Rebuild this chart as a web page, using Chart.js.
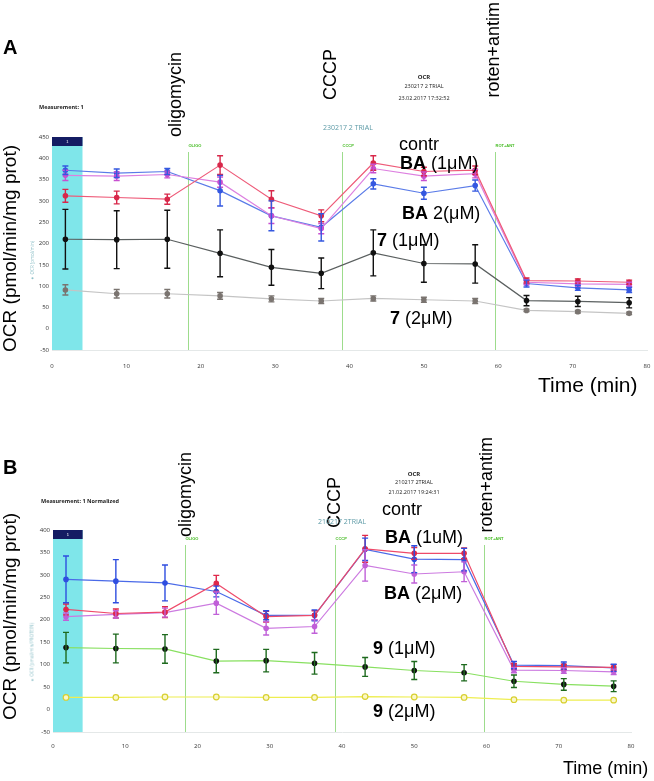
<!DOCTYPE html>
<html lang="en">
<head>
<meta charset="UTF-8">
<title>OCR</title>
<script src="https://cdn.jsdelivr.net/npm/chart.js"></script>
<style>
  body{margin:0;background:#fff;font-family:"Liberation Sans",Arial,sans-serif;}
  .wrap{position:relative;width:654px;height:781px;overflow:hidden;}
  canvas{position:absolute;left:0;}
  .t{position:absolute;white-space:nowrap;line-height:1;font-size:18px;color:#000;}
  .v{position:absolute;white-space:nowrap;line-height:1;font-size:18px;writing-mode:vertical-rl;transform:rotate(180deg);}
  .s{position:absolute;white-space:nowrap;line-height:1;font-family:"Open Sans",sans-serif;color:#222;}
  .c{transform:translateX(-50%);}
</style>
</head>
<body>
<div class="wrap">
  <canvas id="cA" width="654" height="392" style="top:0"></canvas>
  <canvas id="cB" width="654" height="389" style="top:392px"></canvas>

  <!-- panel A texts -->
  <div class="t" style="left:3px;top:37px;font-size:20px;font-weight:bold">A</div>
  <div class="v" style="left:0;bottom:429px;font-size:19px">OCR (pmol/min/mg prot)</div>
  <div class="v" style="left:166px;bottom:644px">oligomycin</div>
  <div class="v" style="left:321px;bottom:681px">CCCP</div>
  <div class="v" style="left:484px;bottom:683px">roten+antim</div>
  <div class="s c" style="left:424px;top:74px;font-size:6px;font-weight:bold">OCR</div>
  <div class="s c" style="left:424px;top:84px;font-size:5.5px">230217 2 TRIAL</div>
  <div class="s c" style="left:424px;top:96px;font-size:5.5px">23.02.2017 17:32:52</div>
  <div class="s" style="left:323px;top:124px;font-size:7px;color:#5c9aa6">230217 2 TRIAL</div>
  <div class="s" style="left:39px;top:105px;font-size:5.5px;font-weight:bold">Measurement: 1</div>
  <div class="v s" style="left:30px;bottom:500px;font-size:4.5px;color:#8fc0c8">&#9679; OCR (pmol/min)</div>
  <div class="t" style="left:399px;top:135px">contr</div>
  <div class="t" style="left:400px;top:154px"><b>BA</b> (1&mu;M)</div>
  <div class="t" style="left:402px;top:204px"><b>BA</b> 2(&mu;M)</div>
  <div class="t" style="left:377px;top:231px"><b>7</b> (1&mu;M)</div>
  <div class="t" style="left:390px;top:309px"><b>7</b> (2&mu;M)</div>
  <div class="t" style="left:538px;top:374px;font-size:21px">Time (min)</div>

  <!-- panel B texts -->
  <div class="t" style="left:3px;top:457px;font-size:20px;font-weight:bold">B</div>
  <div class="v" style="left:0;bottom:61px;font-size:19px">OCR (pmol/min/mg prot)</div>
  <div class="v" style="left:176px;bottom:244px">oligomycin</div>
  <div class="v" style="left:325px;bottom:253px">CCCP</div>
  <div class="v" style="left:477px;bottom:248px">roten+antim</div>
  <div class="s c" style="left:414px;top:471px;font-size:6px;font-weight:bold">OCR</div>
  <div class="s c" style="left:414px;top:480px;font-size:5.5px">210217 2TRIAL</div>
  <div class="s c" style="left:414px;top:490px;font-size:5.5px">21.02.2017 19:24:31</div>
  <div class="s" style="left:318px;top:518px;font-size:7px;color:#5c9aa6">210217 2TRIAL</div>
  <div class="s" style="left:41px;top:499px;font-size:5.5px;font-weight:bold">Measurement: 1 Normalized</div>
  <div class="v s" style="left:30px;bottom:98px;font-size:4.5px;color:#8fc0c8">&#9679; OCR (pmol/min/PROTEIN)</div>
  <div class="t" style="left:382px;top:500px">contr</div>
  <div class="t" style="left:385px;top:528px"><b>BA</b> (1uM)</div>
  <div class="t" style="left:384px;top:584px"><b>BA</b> (2&mu;M)</div>
  <div class="t" style="left:373px;top:639px"><b>9</b> (1&mu;M)</div>
  <div class="t" style="left:373px;top:702px"><b>9</b> (2&mu;M)</div>
  <div class="t" style="left:563px;top:759px">Time (min)</div>
</div>

<script>
"use strict";

// measurement times (min)
const times = [1.8, 8.7, 15.5, 22.6, 29.5, 36.2, 43.2, 50.0, 56.9, 63.8, 70.7, 77.6];
const injTimes = [18.3, 39.0, 59.6];
const injLabels = ["OLIGO", "CCCP", "ROT+ANT"];
const basalBand = [0, 4.1];

// panel A
const ctrlA = [312, 308, 304, 384, 304, 265, 389, 369, 372, 113, 112, 109];
const ctrlAErr = [15, 15, 12, 22, 20, 14, 17, 10, 10, 6, 5, 5];
const ba1A = [360, 358, 362, 344, 265, 235, 376, 358, 364, 109, 105, 104];
const ba1AErr = [12, 10, 8, 12, 18, 12, 10, 10, 10, 6, 5, 5];
const ba2A = [372, 365, 369, 324, 265, 238, 340, 318, 336, 106, 96, 91];
const ba2AErr = [10, 10, 7, 36, 35, 32, 12, 14, 13, 8, 6, 6];
const c7lowA = [210, 209, 210, 177, 144, 130, 178, 153, 152, 66, 64, 61];
const c7lowAErr = [70, 68, 68, 55, 42, 36, 54, 44, 45, 12, 12, 12];
const c7highA = [91, 82, 82, 77, 70, 65, 71, 68, 65, 43, 40, 36];
const c7highAErr = [12, 10, 10, 8, 7, 6, 6, 6, 6, 3, 3, 3];

// panel B
const ctrlB = [223, 214, 217, 281, 207, 210, 358, 348, 348, 96, 95, 94];
const ctrlBErr = [12, 10, 12, 18, 12, 10, 30, 13, 12, 6, 6, 6];
const ba1B = [290, 286, 282, 263, 210, 210, 357, 335, 334, 99, 98, 93];
const ba1BErr = [52, 48, 40, 12, 10, 12, 25, 30, 25, 8, 8, 8];
const ba2B = [207, 212, 216, 237, 181, 185, 321, 302, 307, 88, 87, 84];
const ba2BErr = [8, 8, 10, 25, 15, 15, 35, 20, 22, 6, 6, 6];
const c9lowB = [138, 136, 135, 108, 109, 103, 95, 87, 82, 63, 56, 52];
const c9lowBErr = [34, 32, 32, 26, 25, 24, 21, 20, 18, 14, 13, 12];
const c9highB = [27, 27, 28, 28, 27, 27, 29, 28, 27, 22, 21, 21];

function series(vals, errs, line, bar, pt) {
     return {
          data: vals.map((v, i) => ({x: times[i], y: v})),
          err: errs,
          borderColor: line,
          barColor: bar,
          pointBackgroundColor: pt,
          pointBorderColor: pt,
          pointRadius: 2.2,
          borderWidth: 1.2,
          tension: 0
     };
}

const decor = {
     id: "decor",
     beforeDatasetsDraw(chart) {
          const {ctx, chartArea: a, scales: {x}} = chart;
          ctx.save();
          const x0 = x.getPixelForValue(basalBand[0]);
          const x1 = x.getPixelForValue(basalBand[1]);
          ctx.fillStyle = "#7fe6ea";
          ctx.fillRect(x0, a.top, x1 - x0, a.bottom - a.top);
          ctx.fillStyle = "#141c63";
          ctx.fillRect(x0, a.top, x1 - x0, 9);
          ctx.fillStyle = "#fff";
          ctx.font = "4px sans-serif";
          ctx.textAlign = "center";
          ctx.fillText("1", (x0 + x1) / 2, a.top + 6);

          ctx.strokeStyle = "#9ddc8c";
          ctx.lineWidth = 1;
          ctx.fillStyle = "#44bb22";
          ctx.font = "bold 4px sans-serif";
          ctx.textAlign = "left";
          injTimes.forEach((t, i) => {
               const px = Math.round(x.getPixelForValue(t)) + 0.5;
               ctx.beginPath();
               ctx.moveTo(px, a.top + 15);
               ctx.lineTo(px, a.bottom);
               ctx.stroke();
               ctx.fillText(injLabels[i], px, a.top + 10);
          });
          ctx.restore();
     },
     afterDatasetsDraw(chart) {
          const {ctx, scales: {x, y}} = chart;
          chart.data.datasets.forEach(ds => {
               if (!ds.err) return;
               ctx.save();
               ctx.strokeStyle = ds.barColor;
               ctx.lineWidth = 1.4;
               ds.data.forEach((p, i) => {
                    const e = ds.err[i];
                    if (!e) return;
                    const px = x.getPixelForValue(p.x);
                    const top = y.getPixelForValue(p.y + e);
                    const bot = y.getPixelForValue(p.y - e);
                    ctx.beginPath();
                    ctx.moveTo(px, top); ctx.lineTo(px, bot);
                    ctx.moveTo(px - 3, top); ctx.lineTo(px + 3, top);
                    ctx.moveTo(px - 3, bot); ctx.lineTo(px + 3, bot);
                    ctx.stroke();
               });
               ctx.restore();
          });
     }
};

function makeChart(id, datasets, yMax, pad, yWidth, xPad) {
     return new Chart(document.getElementById(id), {
          type: "line",
          data: {datasets: datasets},
          plugins: [decor],
          options: {
               responsive: false,
               animation: false,
               layout: {padding: pad},
               plugins: {legend: {display: false}, tooltip: {enabled: false}},
               scales: {
                    x: {
                         type: "linear", min: 0, max: 80,
                         grid: {display: false, drawTicks: false},
                         border: {display: true, color: "#e4e8e8"},
                         ticks: {stepSize: 10, padding: xPad, color: "#333", font: {size: 6, family: "Open Sans"}, maxRotation: 0},
                         afterFit(s) { s.height = 20; s.paddingLeft = 0; s.paddingRight = 0; }
                    },
                    y: {
                         min: -50, max: yMax,
                         grid: {display: false, drawTicks: false},
                         border: {display: false},
                         ticks: {stepSize: 50, padding: 3, color: "#333", font: {size: 6, family: "Open Sans"}},
                         afterFit(s) { s.width = yWidth; s.paddingTop = 0; s.paddingBottom = 0; }
                    }
               }
          }
     });
}

makeChart("cA", [
     series(ctrlA, ctrlAErr, "#ee5a78", "#d8284a", "#d8284a"),
     series(ba1A, ba1AErr, "#dd80e0", "#c850d0", "#c850d0"),
     series(ba2A, ba2AErr, "#5a7be8", "#3558e0", "#3558e0"),
     series(c7lowA, c7lowAErr, "#5a5f5f", "#111", "#111"),
     series(c7highA, c7highAErr, "#c4c4c4", "#7a7470", "#7a7470")
], 450, {top: 137, right: 7, bottom: 22, left: 0}, 52, 13);

const yellow = series(c9highB, null, "#eeee50", null, "#fbf7c8");
yellow.pointBorderColor = "#d8d030";
yellow.pointRadius = 2.8;

makeChart("cB", [
     series(ctrlB, ctrlBErr, "#ee4a6a", "#e0284a", "#e0284a"),
     series(ba1B, ba1BErr, "#4a6ae8", "#2f4ee0", "#2f4ee0"),
     series(ba2B, ba2BErr, "#cc7ae0", "#c060d8", "#c060d8"),
     series(c9lowB, c9lowBErr, "#88e060", "#1e6a1e", "#111"),
     yellow
], 400, {top: 138, right: 23, bottom: 29, left: 0}, 53, 11);
</script>
</body>
</html>
